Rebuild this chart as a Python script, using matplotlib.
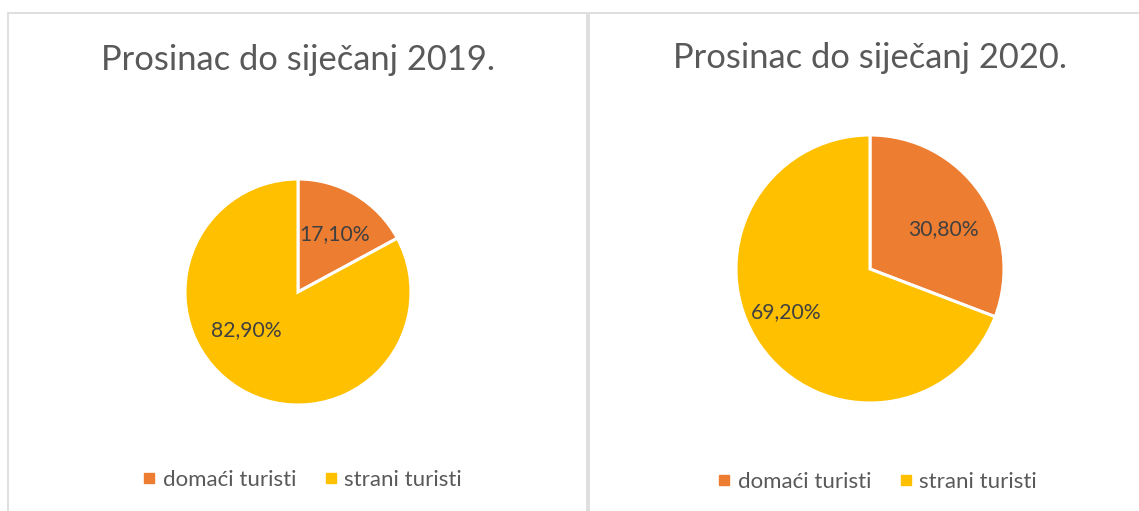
import matplotlib
matplotlib.use("Agg")
import numpy as np
import matplotlib.pyplot as plt
from matplotlib.patches import Rectangle
from matplotlib.lines import Line2D

categories = ["domaći turisti", "strani turisti"]
values_2019 = [17.10, 82.90]
values_2020 = [30.80, 69.20]
titles = ["Prosinac do siječanj 2019.", "Prosinac do siječanj 2020."]
colors = ["#ED7D31", "#FFC000"]

W, H = 1139, 511
plt.rcParams['font.family'] = ['Lato', 'DejaVu Sans']
fig = plt.figure(figsize=(W / 100, H / 100), dpi=100)

def fx(x): return x / W
def fy(y): return 1 - y / H

# panel borders
border = "#D9D9D9"
fig.add_artist(Rectangle((fx(8), fy(530)), fx(587 - 8), (530 - 13) / H,
                         transform=fig.transFigure, fill=False, ec=border, lw=1.2))
fig.add_artist(Rectangle((fx(589), fy(530)), fx(1160 - 589), (530 - 13) / H,
                         transform=fig.transFigure, fill=False, ec=border, lw=1.2))

# label placement style (best-fit style offsets): (angle shift in degrees, radial distance)
panels = [
    dict(vals=values_2019, title=titles[0], cx=298, cy=292, r=113, ty=60, ly=480, lx=300,
         lab=[(-1.7, 0.61), (-23, 0.57)]),
    dict(vals=values_2020, title=titles[1], cx=870, cy=269, r=134, ty=58, ly=482, lx=875,
         lab=[(-6, 0.62), (-7.5, 0.70)]),
]

def fmt(p):
    return ("%.2f%%" % p).replace(".", ",")

for p in panels:
    ax = fig.add_axes([fx(p['cx'] - p['r']), fy(p['cy'] + p['r']),
                       2 * p['r'] / W, 2 * p['r'] / H])
    wedges, texts, autotexts = ax.pie(
        p['vals'], colors=colors, startangle=90, counterclock=False,
        autopct=fmt, pctdistance=0.63,
        wedgeprops=dict(edgecolor="white", linewidth=2.2),
        textprops=dict(color="#404040", fontsize=15.2))
    for w, t, (da, d) in zip(wedges, autotexts, p['lab']):
        ang = np.deg2rad((w.theta1 + w.theta2) / 2 + da)
        t.set_position((d * np.cos(ang), d * np.sin(ang)))
    ax.set_xlim(-1, 1)
    ax.set_ylim(-1, 1)
    ax.set_aspect('equal')
    ax.axis('off')
    fig.text(fx(p['cx']), fy(p['ty']), p['title'], ha='center', va='center',
             fontsize=24.8, color="#595959")
    handles = [Line2D([], [], marker='s', linestyle='none', markersize=7,
                      markerfacecolor=c, markeredgecolor=c) for c in colors]
    fig.legend(handles, categories, loc='center', bbox_to_anchor=(fx(p['lx']), fy(p['ly'])),
               ncol=2, frameon=False, fontsize=16, labelcolor="#595959",
               handletextpad=0.1, columnspacing=1.05, handlelength=1.0)

fig.savefig("out.png", dpi=100, facecolor="white")
